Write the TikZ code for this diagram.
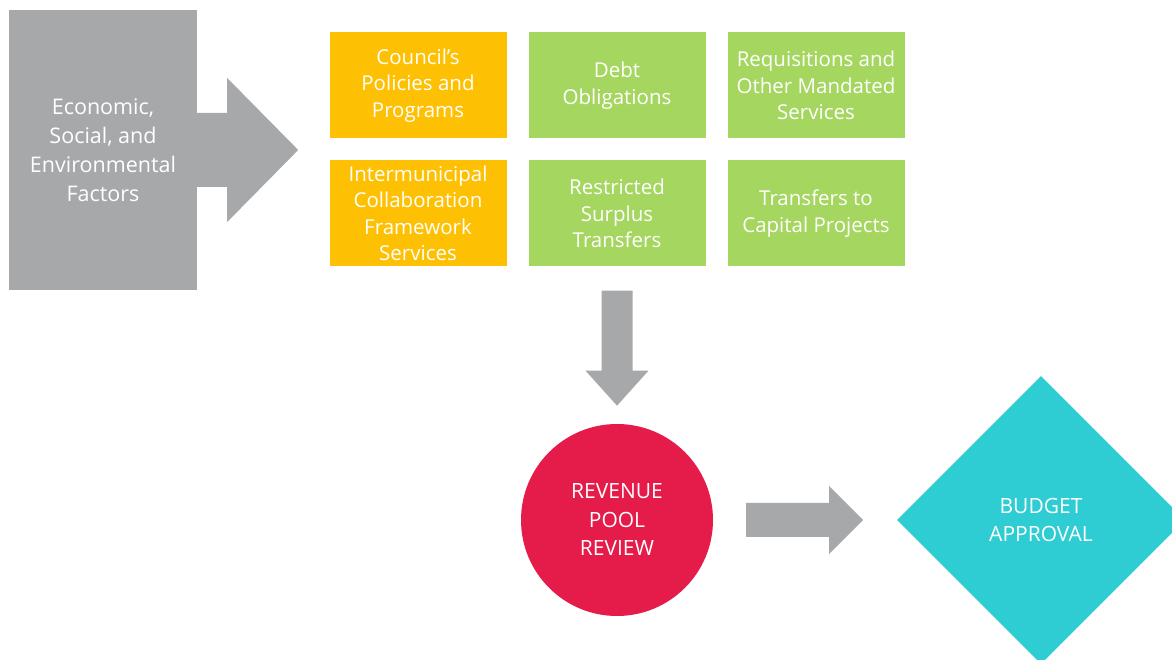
\documentclass[tikz,border=0pt]{standalone}
\usepackage{fontspec}
\setmainfont{Open Sans}
\usetikzlibrary{calc,shapes.geometric}
\definecolor{factorgray}{HTML}{A7A8AA}
\definecolor{poolorange}{HTML}{FEC003}
\definecolor{poolgreen}{HTML}{A5D65F}
\definecolor{poolred}{HTML}{E51C4A}
\definecolor{poolcyan}{HTML}{2ECDD3}
\begin{document}
\begin{tikzpicture}[x=1pt,y=1pt,
    every node/.style={align=center, text=white, inner sep=0pt},
    box/.style={minimum width=177pt, minimum height=106pt, font=\fontsize{20.5}{26.5}\selectfont},
    orangebox/.style={box, fill=poolorange},
    greenbox/.style={box, fill=poolgreen}]
  \useasboundingbox (0,0) rectangle (1172,660);
  \clip (0,0) rectangle (1172,660);
  \node[fill=factorgray, minimum width=188pt, minimum height=280pt,
        font=\fontsize{21.5}{29}\selectfont] (F) at (103,510)
        {Economic,\\Social, and\\Environmental\\Factors};
  \matrix[column sep=22pt, row sep=22pt] at (617,510.5) {
    \node[orangebox] (C) {Council’s\\Policies and\\Programs}; &
    \node[greenbox] (D) {Debt\\Obligations}; &
    \node[greenbox] (Q) {Requisitions and\\Other Mandated\\Services}; \\
    \node[orangebox] (I) {Intermunicipal\\Collaboration\\Framework\\Services}; &
    \node[greenbox] (S) {Restricted\\Surplus\\Transfers}; &
    \node[greenbox] (T) {Transfers to\\Capital Projects}; \\
  };
  \node[circle, fill=poolred, minimum size=192pt,
        font=\fontsize{21}{28.5}\selectfont] (R) at (617,140)
        {REVENUE\\POOL\\REVIEW};
  \node[diamond, fill=poolcyan, minimum width=288pt, minimum height=288pt,
        font=\fontsize{21}{28.5}\selectfont] (B) at (1041,140)
        {BUDGET\\APPROVAL};
  % block arrows
  \fill[factorgray] ($(F.east)+(-1,37)$) -- ++(31,0) -- ++(0,35) -- ++(71,-72)
        -- ++(-71,-72) -- ++(0,35) -- ++(-31,0) -- cycle;
  \fill[factorgray] ($(S.south)+(-15.5,-24)$) -- ++(31,0) -- ++(0,-80) -- ++(16,0)
        -- ++(-31.5,-35) -- ++(-31.5,35) -- ++(16,0) -- cycle;
  \fill[factorgray] ($(R.east)+(33,17)$) -- ++(83,0) -- ++(0,17) -- ++(34,-34)
        -- ++(-34,-34) -- ++(0,17) -- ++(-83,0) -- cycle;
\end{tikzpicture}
\end{document}
